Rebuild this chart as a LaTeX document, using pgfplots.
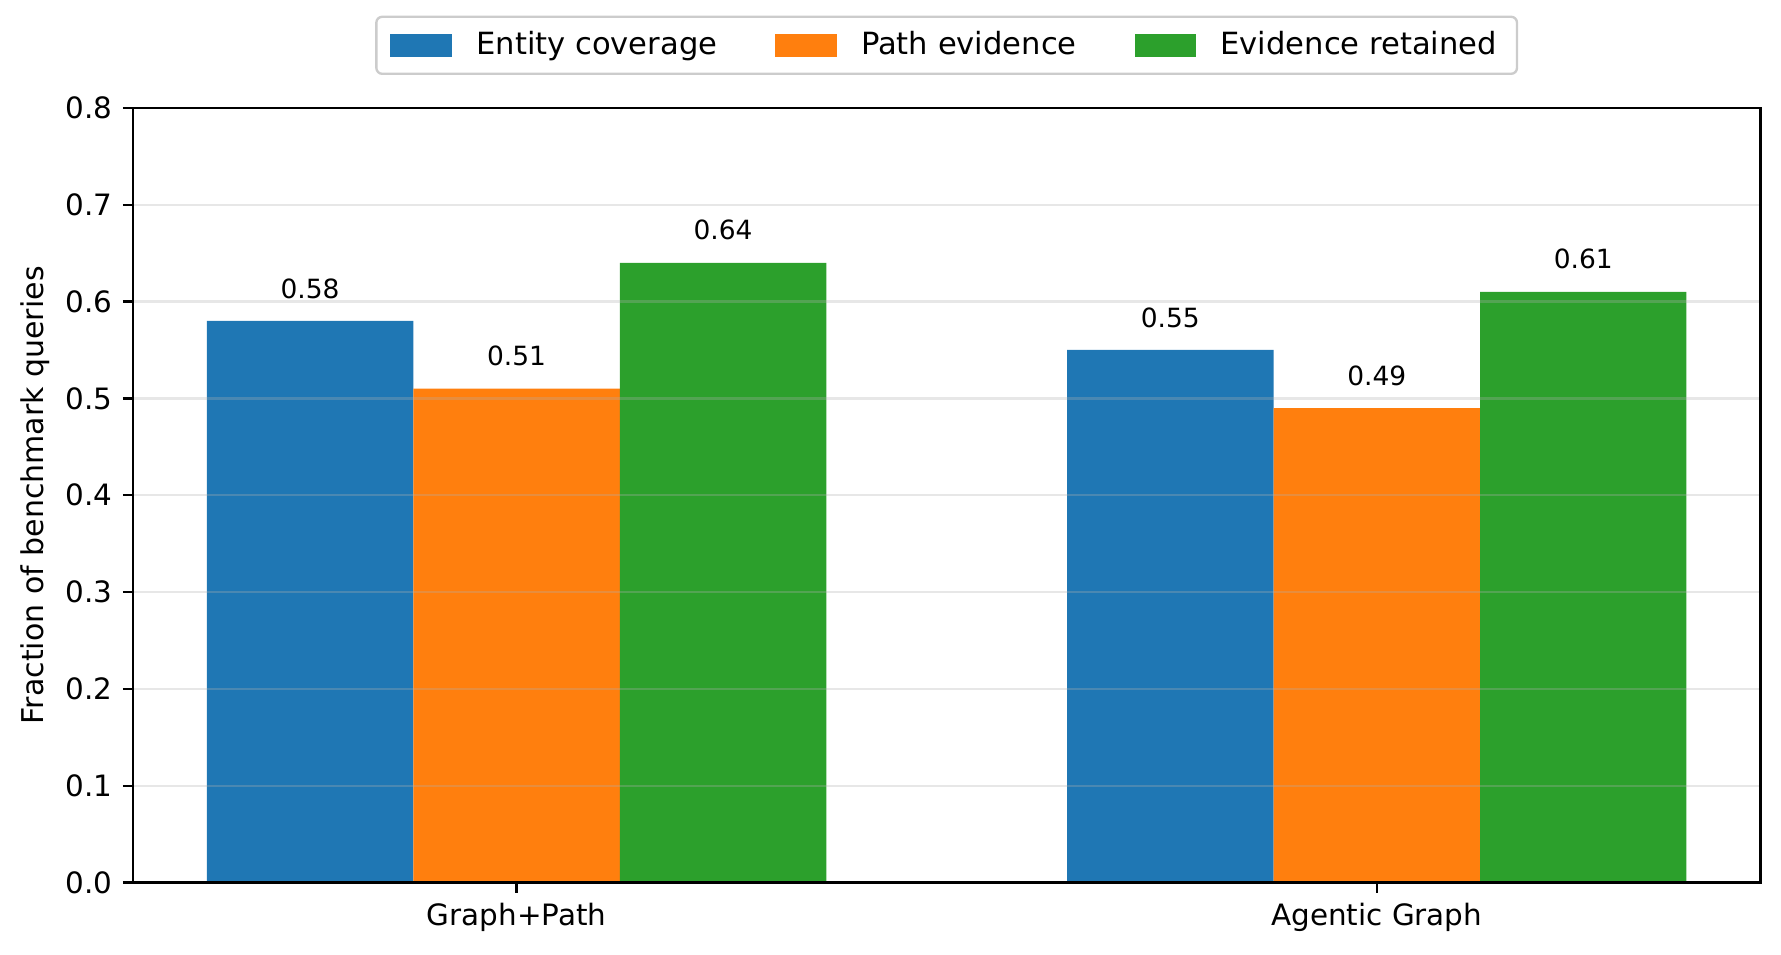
\documentclass[border=0pt]{standalone}
\usepackage{fontspec}
\setmainfont{DejaVu Sans}
\usepackage{pgfplots}
\pgfplotsset{compat=1.18}
\definecolor{tabblue}{HTML}{1F77B4}
\definecolor{taborange}{HTML}{FF7F0E}
\definecolor{tabgreen}{HTML}{2CA02C}
\definecolor{gridgray}{HTML}{B0B0B0}
\definecolor{legendframe}{HTML}{CCCCCC}
\pgfplotsset{patchlegend/.style={legend image code/.code={\fill[#1, sharp corners] (0pt,-4pt) rectangle (21pt,4pt);}}}
\begin{document}
\begin{tikzpicture}
\begin{axis}[
  scale only axis, width=553.4pt, height=263.4pt,
  xmin=-0.446, xmax=1.446, ymin=0, ymax=0.8,
  xtick={0,1}, xticklabels={Graph+Path, Agentic Graph},
  ytick={0,0.1,0.2,0.3,0.4,0.5,0.6,0.7,0.8},
  yticklabel style={/pgf/number format/.cd, fixed, fixed zerofill, precision=1},
  /pgf/number format/assume math mode=true,
  tick label style={font=\fontsize{10}{12}\selectfont, black},
  tick align=outside, major tick length=3.4pt,
  xtick pos=left, ytick pos=left,
  ymajorgrids, grid style={gridgray, opacity=0.3, line width=0.8pt},
  axis on top,
  axis line style={line width=0.8pt},
  major tick style={line width=0.8pt, black},
  ylabel={Fraction of benchmark queries},
  every axis y label/.style={at={(rel axis cs:0,0.5)}, rotate=90, anchor=center, yshift=33.2pt, font=\fontsize{10.2}{12}\selectfont},
  ybar, bar width=0.24,
  legend columns=3,
  legend style={at={(0.5,1)}, anchor=south, yshift=11.2pt, draw=legendframe, rounded corners=2pt, line width=0.8pt, font=\fontsize{10.4}{12.5}\selectfont, inner xsep=4.8pt, inner ysep=3pt,
    /tikz/every odd column/.append style={column sep=6.2pt},
    /tikz/every even column/.append style={column sep=17.7pt}},
  nodes near coords, point meta=explicit symbolic,
  every node near coord/.append style={font=\fontsize{9}{11}\selectfont, anchor=base, inner sep=0pt, yshift=7.8pt, black},
]
\addplot[fill=tabblue, draw=none, bar shift=-0.24, patchlegend] coordinates {(0,0.58) [0.58] (1,0.55) [0.55]};
\addplot[fill=taborange, draw=none, bar shift=0, patchlegend] coordinates {(0,0.51) [0.51] (1,0.49) [0.49]};
\addplot[fill=tabgreen, draw=none, bar shift=0.24, patchlegend] coordinates {(0,0.64) [0.64] (1,0.61) [0.61]};
\legend{Entity coverage, Path evidence, Evidence retained}
\end{axis}
\pgfresetboundingbox
\path ([shift={(-45.2pt,-24.6pt)}]current axis.south west) rectangle ([shift={(7pt,36.7pt)}]current axis.north east);
\end{tikzpicture}
\end{document}
